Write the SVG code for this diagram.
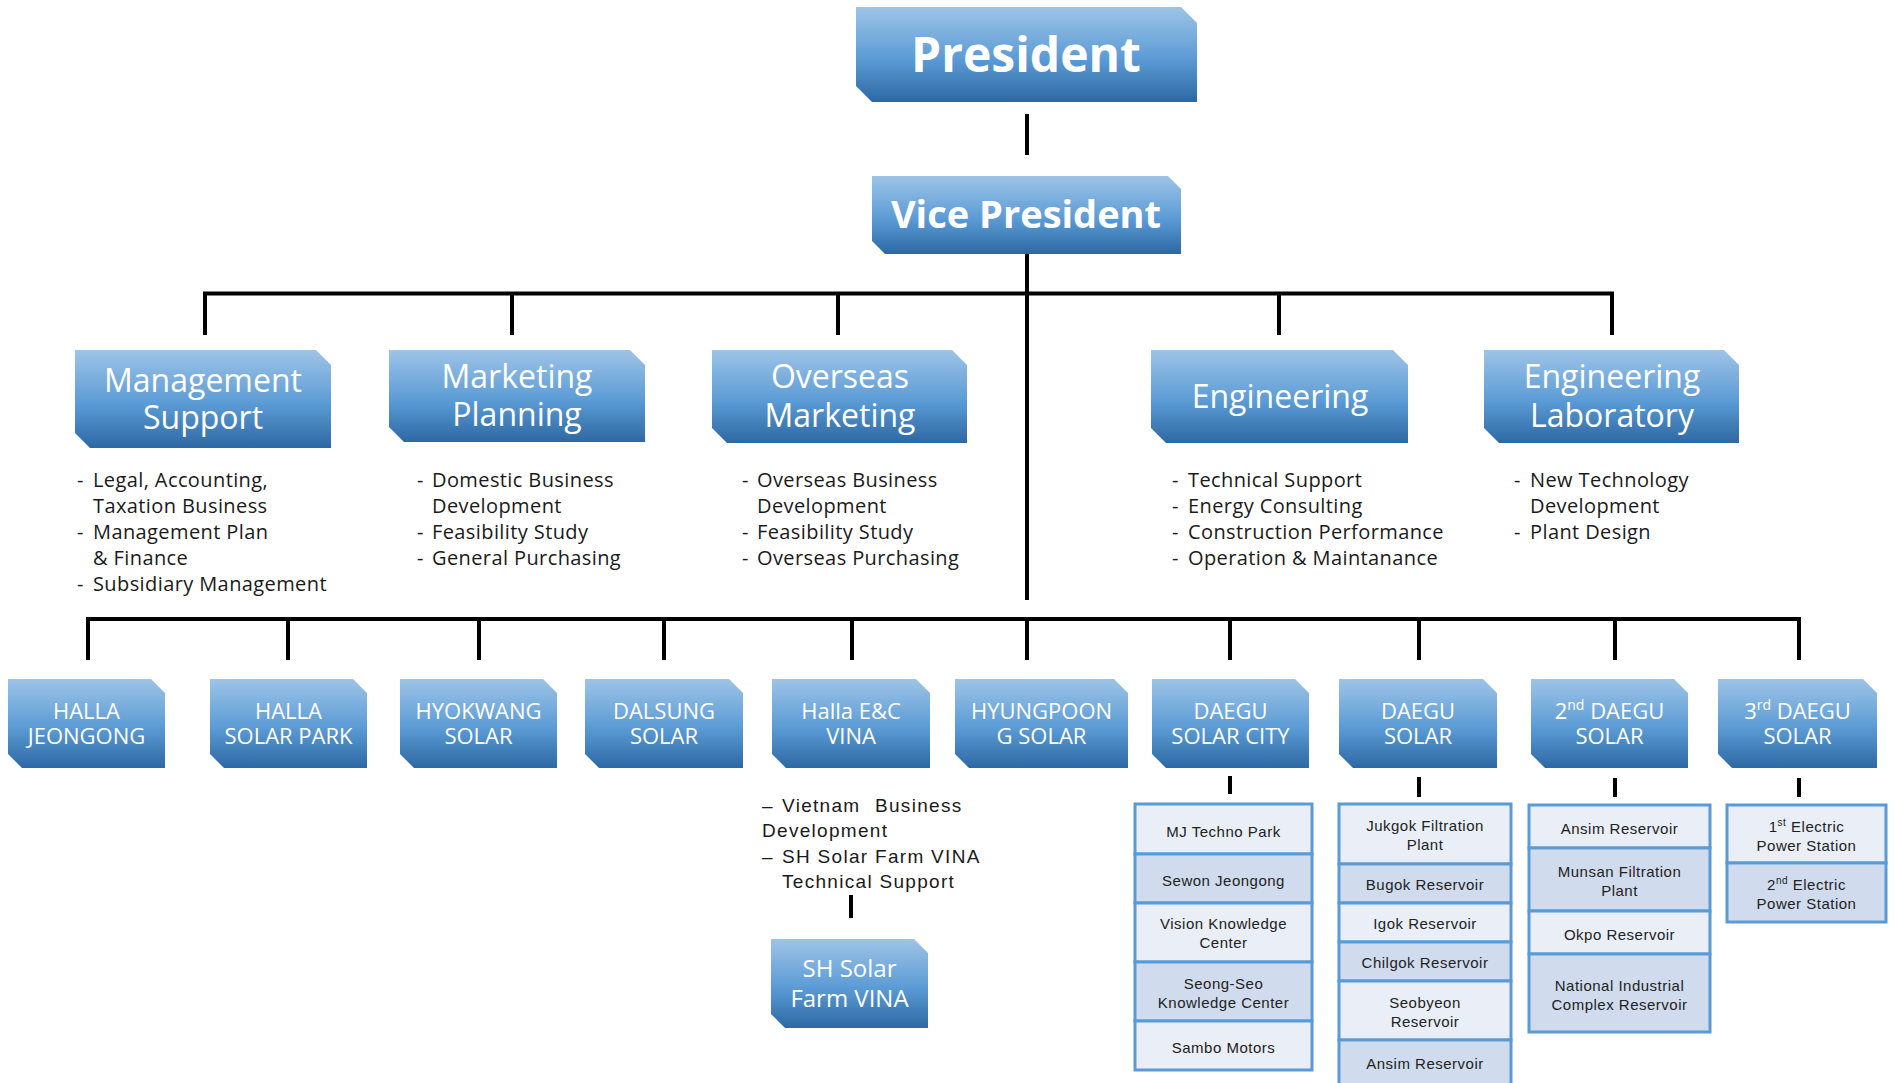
<svg xmlns="http://www.w3.org/2000/svg" width="1895" height="1083" viewBox="0 0 1895 1083">
<defs>
<linearGradient id="g" x1="0" y1="0" x2="0" y2="1">
<stop offset="0" stop-color="#9EC4E7"/>
<stop offset="0.55" stop-color="#5B9BD5"/>
<stop offset="1" stop-color="#2D68A3"/>
</linearGradient>
<style>
.box{fill:url(#g);}
.t{fill:#fff;font-family:"Open Sans","Noto Sans",sans-serif;text-anchor:middle;}
.big{font-weight:bold;}
.mid{font-size:32px;}
.sm{font-size:22px;}
.desc{fill:#1a1a1a;font-family:"Open Sans","Noto Sans",sans-serif;font-size:20px;letter-spacing:0.4px;}
.vd{fill:#1a1a1a;font-family:"Liberation Sans",Arial,sans-serif;font-size:19px;letter-spacing:1.3px;}
.c{fill:none;stroke:#000;stroke-width:4;}
.lt{fill:#E9EEF7;stroke:#5B9BD5;stroke-width:3;}
.dk{fill:#D0DCEE;stroke:#5B9BD5;stroke-width:3;}
.lx{fill:#222;font-family:"Liberation Sans",Arial,sans-serif;font-size:15px;letter-spacing:0.5px;text-anchor:middle;}
</style>
</defs>
<rect width="1895" height="1083" fill="#fff"/>

<g id="connectors">
<path class="c" d="M1027,114V155"/>
<path class="c" d="M1027,254V600"/>
<path class="c" d="M205,335V293.5H1612V335"/>
<path class="c" d="M512,293.5V335M838,293.5V335M1279,293.5V335"/>
<path class="c" d="M88,660V619H1799V660"/>
<path class="c" d="M288,619V660M479,619V660M664,619V660M852,619V660M1027,619V660M1230,619V660M1419,619V660M1615,619V660"/>
<path class="c" d="M1230,776V794M1419,777V797M1615,778V797M1799,778V797"/>
<path class="c" d="M851,895V918"/>
</g>

<g id="president">
<polygon class="box" points="856,7 1181,7 1197,23 1197,102 872,102 856,86"/>
<text class="t big" x="1026" y="72" font-size="48">President</text>
</g>
<g id="vice-president">
<polygon class="box" points="872,176 1168,176 1181,189 1181,254 885,254 872,241"/>
<text class="t big" x="1026" y="228" font-size="38">Vice President</text>
</g>

<g id="management-support">
<polygon class="box" points="75,350 316,350 331,365 331,448 90,448 75,433"/>
<text class="t mid"><tspan x="203" y="392">Management</tspan><tspan x="203" y="429">Support</tspan></text>
<text class="desc"><tspan x="77" y="487">-</tspan><tspan x="93" y="487">Legal, Accounting,</tspan><tspan x="93" y="513">Taxation Business</tspan><tspan x="77" y="539">-</tspan><tspan x="93" y="539">Management Plan</tspan><tspan x="93" y="565">&amp; Finance</tspan><tspan x="77" y="591">-</tspan><tspan x="93" y="591">Subsidiary Management</tspan></text>
</g>
<g id="marketing-planning">
<polygon class="box" points="389,350 630,350 645,365 645,442 404,442 389,427"/>
<text class="t mid"><tspan x="517" y="388">Marketing</tspan><tspan x="517" y="426">Planning</tspan></text>
<text class="desc"><tspan x="417" y="487">-</tspan><tspan x="432" y="487">Domestic Business</tspan><tspan x="432" y="513">Development</tspan><tspan x="417" y="539">-</tspan><tspan x="432" y="539">Feasibility Study</tspan><tspan x="417" y="565">-</tspan><tspan x="432" y="565">General Purchasing</tspan></text>
</g>
<g id="overseas-marketing">
<polygon class="box" points="712,350 952,350 967,365 967,443 727,443 712,428"/>
<text class="t mid"><tspan x="840" y="388">Overseas</tspan><tspan x="840" y="427">Marketing</tspan></text>
<text class="desc"><tspan x="742" y="487">-</tspan><tspan x="757" y="487">Overseas Business</tspan><tspan x="757" y="513">Development</tspan><tspan x="742" y="539">-</tspan><tspan x="757" y="539">Feasibility Study</tspan><tspan x="742" y="565">-</tspan><tspan x="757" y="565">Overseas Purchasing</tspan></text>
</g>
<g id="engineering">
<polygon class="box" points="1151,350 1393,350 1408,365 1408,443 1166,443 1151,428"/>
<text class="t mid" x="1280" y="408">Engineering</text>
<text class="desc"><tspan x="1172" y="487">-</tspan><tspan x="1188" y="487">Technical Support</tspan><tspan x="1172" y="513">-</tspan><tspan x="1188" y="513">Energy Consulting</tspan><tspan x="1172" y="539">-</tspan><tspan x="1188" y="539">Construction Performance</tspan><tspan x="1172" y="565">-</tspan><tspan x="1188" y="565">Operation &amp; Maintanance</tspan></text>
</g>
<g id="engineering-laboratory">
<polygon class="box" points="1484,350 1724,350 1739,365 1739,443 1499,443 1484,428"/>
<text class="t mid"><tspan x="1612" y="388">Engineering</tspan><tspan x="1612" y="427">Laboratory</tspan></text>
<text class="desc"><tspan x="1514" y="487">-</tspan><tspan x="1530" y="487">New Technology</tspan><tspan x="1530" y="513">Development</tspan><tspan x="1514" y="539">-</tspan><tspan x="1530" y="539">Plant Design</tspan></text>
</g>

<g id="halla-jeongong">
<polygon class="box" points="8,679 151,679 165,693 165,768 22,768 8,754"/>
<text class="t sm"><tspan x="86.5" y="719">HALLA</tspan><tspan x="86.5" y="744">JEONGONG</tspan></text>
</g>
<g id="halla-solar-park">
<polygon class="box" points="210,679 353,679 367,693 367,768 224,768 210,754"/>
<text class="t sm"><tspan x="288.5" y="719">HALLA</tspan><tspan x="288.5" y="744">SOLAR PARK</tspan></text>
</g>
<g id="hyokwang-solar">
<polygon class="box" points="400,679 543,679 557,693 557,768 414,768 400,754"/>
<text class="t sm"><tspan x="478.5" y="719">HYOKWANG</tspan><tspan x="478.5" y="744">SOLAR</tspan></text>
</g>
<g id="dalsung-solar">
<polygon class="box" points="585,679 729,679 743,693 743,768 599,768 585,754"/>
<text class="t sm"><tspan x="664" y="719">DALSUNG</tspan><tspan x="664" y="744">SOLAR</tspan></text>
</g>
<g id="halla-enc-vina">
<polygon class="box" points="772,679 916,679 930,693 930,768 786,768 772,754"/>
<text class="t sm"><tspan x="851" y="719">Halla E&amp;C</tspan><tspan x="851" y="744">VINA</tspan></text>
<text class="vd"><tspan x="762" y="812">–</tspan><tspan x="782" y="812">Vietnam</tspan><tspan x="875" y="812">Business</tspan><tspan x="762" y="837">Development</tspan><tspan x="762" y="863">–</tspan><tspan x="782" y="863">SH Solar Farm VINA</tspan><tspan x="782" y="888">Technical Support</tspan></text>
</g>
<g id="sh-solar-farm-vina">
<polygon class="box" points="771,939 914,939 928,953 928,1028 785,1028 771,1014"/>
<text class="t" font-size="24"><tspan x="849.5" y="977">SH Solar</tspan><tspan x="849.5" y="1007">Farm VINA</tspan></text>
</g>
<g id="hyungpoong-solar">
<polygon class="box" points="955,679 1114,679 1128,693 1128,768 969,768 955,754"/>
<text class="t sm"><tspan x="1041.5" y="719">HYUNGPOON</tspan><tspan x="1041.5" y="744">G SOLAR</tspan></text>
</g>
<g id="daegu-solar-city">
<polygon class="box" points="1152,679 1295,679 1309,693 1309,768 1166,768 1152,754"/>
<text class="t sm"><tspan x="1230.5" y="719">DAEGU</tspan><tspan x="1230.5" y="744">SOLAR CITY</tspan></text>
</g>
<g id="daegu-solar">
<polygon class="box" points="1339,679 1483,679 1497,693 1497,768 1353,768 1339,754"/>
<text class="t sm"><tspan x="1418" y="719">DAEGU</tspan><tspan x="1418" y="744">SOLAR</tspan></text>
</g>
<g id="daegu-solar-2">
<polygon class="box" points="1531,679 1674,679 1688,693 1688,768 1545,768 1531,754"/>
<text class="t sm"><tspan x="1609.5" y="719">2<tspan font-size="14" dy="-9">nd</tspan><tspan dy="9"> DAEGU</tspan></tspan><tspan x="1609.5" y="744">SOLAR</tspan></text>
</g>
<g id="daegu-solar-3">
<polygon class="box" points="1718,679 1863,679 1877,693 1877,768 1732,768 1718,754"/>
<text class="t sm"><tspan x="1797.5" y="719">3<tspan font-size="14" dy="-9">rd</tspan><tspan dy="9"> DAEGU</tspan></tspan><tspan x="1797.5" y="744">SOLAR</tspan></text>
</g>

<g id="list-daegu-solar-city">
<rect class="lt" x="1135" y="804" width="177" height="50"/>
<rect class="dk" x="1135" y="854" width="177" height="49"/>
<rect class="lt" x="1135" y="903" width="177" height="59"/>
<rect class="dk" x="1135" y="962" width="177" height="59"/>
<rect class="lt" x="1135" y="1021" width="177" height="49"/>
<text class="lx" x="1223.5" y="837">MJ Techno Park</text>
<text class="lx" x="1223.5" y="886">Sewon Jeongong</text>
<text class="lx"><tspan x="1223.5" y="929">Vision Knowledge</tspan><tspan x="1223.5" y="948">Center</tspan></text>
<text class="lx"><tspan x="1223.5" y="989">Seong-Seo</tspan><tspan x="1223.5" y="1008">Knowledge Center</tspan></text>
<text class="lx" x="1223.5" y="1053">Sambo Motors</text>
</g>
<g id="list-daegu-solar">
<rect class="lt" x="1339" y="804" width="172" height="60"/>
<rect class="dk" x="1339" y="864" width="172" height="39"/>
<rect class="lt" x="1339" y="903" width="172" height="39"/>
<rect class="dk" x="1339" y="942" width="172" height="39"/>
<rect class="lt" x="1339" y="981" width="172" height="59"/>
<rect class="dk" x="1339" y="1040" width="172" height="60"/>
<text class="lx"><tspan x="1425" y="831">Jukgok Filtration</tspan><tspan x="1425" y="850">Plant</tspan></text>
<text class="lx" x="1425" y="890">Bugok Reservoir</text>
<text class="lx" x="1425" y="929">Igok Reservoir</text>
<text class="lx" x="1425" y="968">Chilgok Reservoir</text>
<text class="lx"><tspan x="1425" y="1008">Seobyeon</tspan><tspan x="1425" y="1027">Reservoir</tspan></text>
<text class="lx" x="1425" y="1069">Ansim Reservoir</text>
</g>
<g id="list-daegu-solar-2">
<rect class="lt" x="1529" y="805" width="181" height="43"/>
<rect class="dk" x="1529" y="848" width="181" height="63"/>
<rect class="lt" x="1529" y="911" width="181" height="43"/>
<rect class="dk" x="1529" y="954" width="181" height="78"/>
<text class="lx" x="1619.5" y="834">Ansim Reservoir</text>
<text class="lx"><tspan x="1619.5" y="877">Munsan Filtration</tspan><tspan x="1619.5" y="896">Plant</tspan></text>
<text class="lx" x="1619.5" y="940">Okpo Reservoir</text>
<text class="lx"><tspan x="1619.5" y="991">National Industrial</tspan><tspan x="1619.5" y="1010">Complex Reservoir</tspan></text>
</g>
<g id="list-daegu-solar-3">
<rect class="lt" x="1727" y="805" width="159" height="58"/>
<rect class="dk" x="1727" y="863" width="159" height="59"/>
<text class="lx"><tspan x="1806.5" y="832">1<tspan font-size="10" dy="-6">st</tspan><tspan dy="6"> Electric</tspan></tspan><tspan x="1806.5" y="851">Power Station</tspan></text>
<text class="lx"><tspan x="1806.5" y="890">2<tspan font-size="10" dy="-6">nd</tspan><tspan dy="6"> Electric</tspan></tspan><tspan x="1806.5" y="909">Power Station</tspan></text>
</g>
</svg>
